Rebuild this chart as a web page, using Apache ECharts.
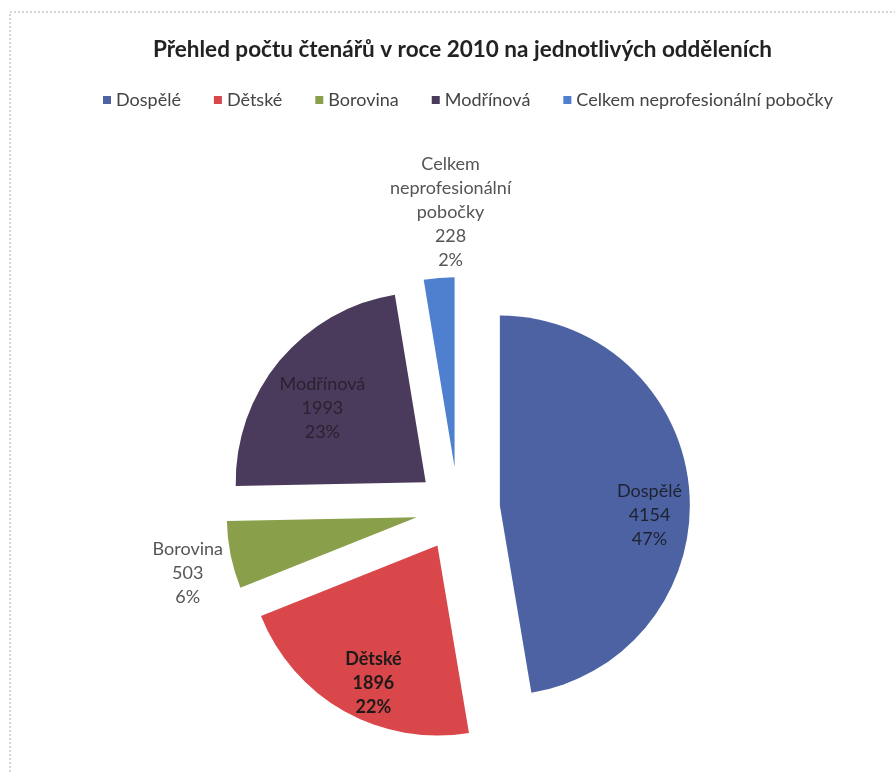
<!DOCTYPE html>
<html>
<head>
<meta charset="utf-8">
<script src="https://cdn.jsdelivr.net/npm/echarts@6/dist/echarts.min.js"></script>
<style>
html,body{margin:0;padding:0;background:#fff;}
#chart{width:895px;height:772px;}
</style>
</head>
<body>
<div id="chart"></div>
<script>
const categories = ['Dospělé', 'Dětské', 'Borovina', 'Modřínová', 'Celkem neprofesionální pobočky'];
const values = [4154, 1896, 503, 1993, 228];
const percentLabels = ['47%', '22%', '6%', '23%', '2%'];
const labelNames = ['Dospělé', 'Dětské', 'Borovina', 'Modřínová', 'Celkem\nneprofesionální\npobočky'];
const colors = ['#4c62a2', '#d9474a', '#8a9f4a', '#4a3a5c', '#4f7fcf'];
const labelShift = [[52, 18], [-16, 52], [-133, 36], [-28, -11], [4, -157]];
const labelColors = ['#1e2230', '#1e1a1a', '#555', '#2a2230', '#555'];

const chart = echarts.init(document.getElementById('chart'), null, {renderer: 'canvas'});
const data = categories.map((c, i) => ({
  name: c,
  value: values[i],
  selected: true,
  itemStyle: {color: colors[i]},
  label: {
    formatter: labelNames[i] + '\n' + values[i] + '\n' + percentLabels[i],
    color: labelColors[i],
    fontWeight: i === 1 ? 'bold' : 'normal'
  }
}));

chart.setOption({
  backgroundColor: '#fff',
  animation: false,
  title: {
    text: 'Přehled počtu čtenářů v roce 2010 na jednotlivých odděleních',
    left: 148,
    top: 33,
    textStyle: {fontFamily: 'Lato', fontSize: 22.5, fontWeight: 'bold', color: '#222'}
  },
  legend: {
    data: categories,
    top: 86,
    left: 98,
    itemWidth: 8,
    itemHeight: 8,
    itemGap: 33,
    icon: 'rect',
    selectedMode: false,
    textStyle: {fontFamily: 'Lato', fontSize: 18, color: '#444', padding: [0, 0, 0, 0]}
  },
  graphic: [{
    type: 'rect',
    shape: {x: 10, y: 12, width: 900, height: 780},
    style: {fill: 'none', stroke: '#aaa', lineWidth: 1, lineDash: [2, 2]},
    silent: true
  }],
  series: [{
    type: 'pie',
    center: [458, 509],
    radius: 190,
    startAngle: 90,
    clockwise: true,
    selectedMode: 'multiple',
    selectedOffset: 42,
    avoidLabelOverlap: false,
    label: {
      show: true,
      position: 'inside',
      fontFamily: 'Lato',
      fontSize: 18,
      lineHeight: 24,
      align: 'center'
    },
    labelLine: {show: false},
    emphasis: {disabled: true},
    labelLayout: function (params) {
      const s = labelShift[params.dataIndex];
      return {dx: s[0], dy: s[1]};
    },
    data: data
  }]
});
</script>
</body>
</html>
